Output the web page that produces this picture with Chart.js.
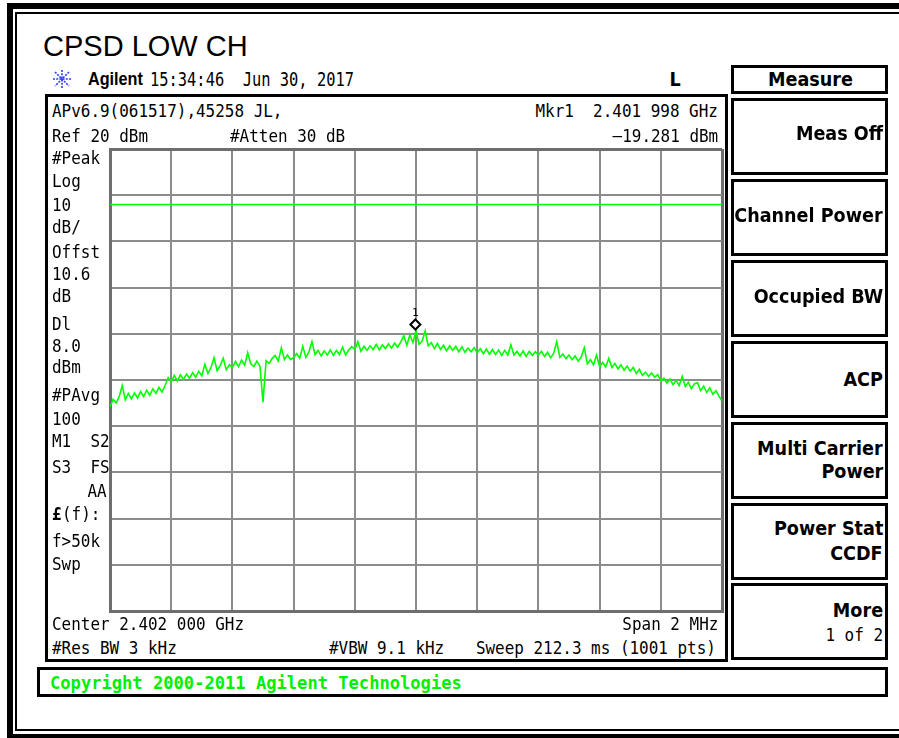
<!DOCTYPE html>
<html>
<head>
<meta charset="utf-8">
<script src="https://cdn.jsdelivr.net/npm/chart.js@4.4.1/dist/chart.umd.min.js"></script>
<style>
  html, body { margin: 0; padding: 0; }
  body { position: relative; width: 899px; height: 738px; overflow: hidden; background: #fff; }
  .box { position: absolute; box-sizing: border-box; }
  .lbl { position: absolute; white-space: pre; line-height: 1; color: #000; }
  .t { font-family: "Liberation Sans", Arial, sans-serif; font-size: 29px; }
  .a { font-family: "Liberation Sans", Arial, sans-serif; font-weight: bold; font-size: 18px; transform: scaleX(0.9); }
  .d { font-family: "DejaVu Sans Mono", monospace; font-size: 20px; transform: scaleX(0.77); }
  .m { font-family: "DejaVu Sans Mono", monospace; font-size: 18px; transform: scaleX(0.886); }
  .k { font-family: "DejaVu Sans", sans-serif; font-weight: bold; font-size: 20px; transform: scaleX(0.88); }
  .c { font-family: "DejaVu Sans Mono", monospace; font-weight: bold; font-size: 18px; transform: scaleX(0.95); color: #00f000; }
  #chart { position: absolute; left: 100px; top: 140px; }
</style>
</head>
<body>
<!-- outer double frame -->
<div class="box" style="left:7px;top:3px;width:900px;height:735px;border-left:6px solid #000;border-top:6px solid #000;border-bottom:4px solid #000"></div>
<div class="box" style="left:15px;top:12px;width:900px;height:719px;border-left:2px solid #000;border-top:2px solid #000;border-bottom:2px solid #000"></div>

<!-- analyzer screen and softkeys -->
<div class="box" style="left:45px;top:94px;width:683px;height:568px;border:3px solid #000"></div>
<div class="box" style="left:731px;top:65px;width:157px;height:29px;border:3px solid #000"></div>
<div id="keys"></div>
<div class="box" style="left:37px;top:667px;width:851px;height:30px;border:3px solid #000"></div>

<svg class="box" style="left:51px;top:69px" width="22" height="20" viewBox="0 0 22 20">
  <g stroke="#2a3cff" stroke-width="1.6" stroke-dasharray="2 1.2">
    <line x1="11" y1="1" x2="11" y2="19"/>
    <line x1="2" y1="10" x2="20" y2="10"/>
    <line x1="4" y1="3" x2="18" y2="17"/>
    <line x1="18" y1="3" x2="4" y2="17"/>
  </g>
</svg>

<canvas id="chart" width="640" height="480"></canvas>

<script>
// sweep: 1001 pts over 2 MHz, values read every 10 kHz (201 readings)
const sweepStartMHz = 2401.0;
const sweepStopMHz = 2403.0;
const traceDbm = [
  -35.8, -34.2, -35.0, -33.6, -31.2, -34.3, -32.9, -34.1, -32.8, -33.9,
  -32.5, -33.6, -32.2, -33.3, -31.9, -32.9, -31.6, -32.6, -31.2, -29.5,
  -30.4, -29.0, -30.2, -28.9, -29.9, -28.7, -29.6, -28.4, -29.4, -28.1,
  -29.1, -26.6, -28.6, -27.3, -25.2, -28.0, -26.9, -25.3, -27.8, -26.7,
  -27.3, -26.0, -27.1, -25.7, -26.8, -24.1, -26.5, -27.1, -25.9, -27.0,
  -34.8, -25.8, -26.4, -25.3, -24.7, -25.9, -23.0, -25.6, -24.6, -25.6,
  -25.1, -24.3, -25.3, -22.7, -25.1, -23.9, -21.7, -24.5, -23.6, -24.8,
  -23.7, -24.6, -23.5, -24.7, -23.6, -24.5, -22.9, -24.6, -23.5, -22.8,
  -23.4, -21.7, -23.8, -22.7, -23.6, -22.6, -23.4, -22.3, -23.5, -22.4,
  -23.2, -22.2, -23.1, -22.0, -22.9, -21.8, -20.4, -22.5, -20.2, -21.9,
  -19.3, -22.3, -21.6, -19.4, -22.6, -21.9, -23.2, -22.1, -23.4, -22.5,
  -23.7, -22.6, -23.6, -22.7, -23.9, -22.8, -24.0, -23.1, -23.9, -23.0,
  -24.1, -23.2, -24.3, -23.3, -24.4, -23.4, -24.5, -23.5, -24.7, -23.6,
  -24.6, -22.4, -24.6, -23.8, -24.8, -23.7, -24.9, -23.8, -24.7, -23.9,
  -24.6, -23.8, -24.9, -24.0, -25.2, -24.2, -21.7, -25.1, -24.4, -25.4,
  -24.6, -25.6, -24.8, -25.9, -25.0, -23.0, -26.5, -25.6, -26.7, -24.6,
  -27.1, -26.2, -27.2, -25.3, -27.3, -26.4, -27.6, -26.7, -27.9, -27.0,
  -28.1, -27.3, -28.6, -27.7, -29.0, -28.3, -29.2, -28.5, -29.4, -28.8,
  -30.2, -29.6, -30.7, -29.8, -31.0, -30.1, -31.2, -29.2, -31.4, -30.5,
  -31.9, -30.8, -30.6, -32.3, -31.3, -32.7, -31.7, -33.1, -32.3, -33.5,
  -34.5
];
const refLevelDbm = 20;
const bottomLevelDbm = -80;
const xGridMHz = [2401.0, 2401.2, 2401.4, 2401.6, 2401.8, 2402.0, 2402.2, 2402.4, 2402.6, 2402.8, 2403.0];
const yGridDbm = [20, 10, 0, -10, -20, -30, -40, -50, -60, -70, -80];
const displayLineDbm = 8.0;
const markerFreqMHz = 2401.998;
const markerDbm = -19.281;

// text on the analyzer screen: [text, x, baseline, class, alignRight]
const labels = [
  ['CPSD LOW CH', 43, 57, 't'],
  ['Agilent', 88, 85, 'a'],
  ['15:34:46  Jun 30, 2017', 150, 86, 'd'],
  ['L', 681, 86, 'k', true],
  ['Measure', 768, 86, 'k'],
  ['APv6.9(061517),45258 JL,', 52, 117, 'm'],
  ['Mkr1  2.401 998 GHz', 718, 117, 'm', true],
  ['Ref 20 dBm', 52, 142, 'm'],
  ['#Atten 30 dB', 230, 142, 'm'],
  ['\u201319.281 dBm', 718, 142, 'm', true],
  ['#Peak', 52, 164, 'm'],
  ['Log', 52, 187, 'm'],
  ['10', 52, 211, 'm'],
  ['dB/', 52, 233, 'm'],
  ['Offst', 52, 258, 'm'],
  ['10.6', 52, 280, 'm'],
  ['dB', 52, 302, 'm'],
  ['Dl', 52, 330, 'm'],
  ['8.0', 52, 352, 'm'],
  ['dBm', 52, 373, 'm'],
  ['#PAvg', 52, 401, 'm'],
  ['100', 52, 425, 'm'],
  ['M1  S2', 52, 447, 'm'],
  ['S3  FS', 52, 473, 'm'],
  ['AA', 107, 497, 'm', true],
  ['(f):', 62, 520, 'm'],
  ['f>50k', 52, 547, 'm'],
  ['Swp', 52, 570, 'm'],
  ['Center 2.402 000 GHz', 52, 630, 'm'],
  ['Span 2 MHz', 718, 630, 'm', true],
  ['#Res BW 3 kHz', 52, 654, 'm'],
  ['#VBW 9.1 kHz', 329, 654, 'm'],
  ['Sweep 212.3 ms (1001 pts)', 716, 654, 'm', true],
  ['Copyright 2000-2011 Agilent Technologies', 50, 689, 'c'],
  ['Meas Off', 883, 140, 'k', true],
  ['Channel Power', 883, 222, 'k', true],
  ['Occupied BW', 883, 303, 'k', true],
  ['ACP', 883, 386, 'k', true],
  ['Multi Carrier', 883, 455, 'k', true],
  ['Power', 883, 478, 'k', true],
  ['Power Stat', 883, 535, 'k', true],
  ['CCDF', 883, 560, 'k', true],
  ['More', 883, 617, 'k', true],
  ['1 of 2', 883, 641, 'm', true]
];
const softkeyTops = [98, 179, 260, 341, 422, 503, 583];

const fontSize = { t: 29, a: 18, d: 20, m: 18, k: 20, c: 18 };

function put(text, x, base, cls, right) {
  const el = document.createElement('div');
  el.className = 'lbl ' + cls;
  el.textContent = text;
  el.style.top = (base - 0.846 * fontSize[cls]) + 'px';
  if (right) {
    el.style.right = (899 - x) + 'px';
    el.style.transformOrigin = 'right top';
  } else {
    el.style.left = x + 'px';
    el.style.transformOrigin = 'left top';
  }
  document.body.appendChild(el);
  return el;
}

labels.forEach(l => put(l[0], l[1], l[2], l[3], l[4]));
// bold script L of the £(f) line
put('\u00a3', 52, 520, 'm').style.fontWeight = 'bold';

const keys = document.getElementById('keys');
softkeyTops.forEach(t => {
  const b = document.createElement('div');
  b.className = 'box';
  b.style.cssText = 'left:731px;top:' + t + 'px;width:157px;height:77px;border:3px solid #000';
  keys.appendChild(b);
});

const markerPlugin = {
  id: 'marker',
  afterDatasetsDraw(chart) {
    const { ctx, scales: { x, y } } = chart;
    const px = x.getPixelForValue(markerFreqMHz);
    const py = y.getPixelForValue(markerDbm);
    const cy = py - 6;
    ctx.save();
    ctx.beginPath();
    ctx.moveTo(px, cy - 5);
    ctx.lineTo(px + 5, cy);
    ctx.lineTo(px, cy + 5);
    ctx.lineTo(px - 5, cy);
    ctx.closePath();
    ctx.fillStyle = '#fff';
    ctx.fill();
    ctx.lineWidth = 2;
    ctx.strokeStyle = '#000';
    ctx.stroke();
    ctx.fillStyle = '#000';
    ctx.font = '11px "DejaVu Sans Mono"';
    ctx.textAlign = 'center';
    ctx.fillText('1', px, cy - 8);
    ctx.restore();
  }
};

const step = (sweepStopMHz - sweepStartMHz) / (traceDbm.length - 1);
const tracePoints = traceDbm.map((v, i) => ({ x: sweepStartMHz + i * step, y: v }));

const edge = (c, n) => c.index === 0 || c.index === n - 1;

new Chart(document.getElementById('chart'), {
  type: 'line',
  data: {
    datasets: [{
      data: tracePoints,
      borderColor: '#00ff00',
      borderWidth: 1.6,
      pointRadius: 0,
      tension: 0
    }, {
      data: [{ x: sweepStartMHz, y: displayLineDbm }, { x: sweepStopMHz, y: displayLineDbm }],
      borderColor: '#00ff00',
      borderWidth: 1.5,
      pointRadius: 0
    }]
  },
  options: {
    responsive: false,
    animation: false,
    devicePixelRatio: 1,
    layout: { padding: { left: 10, top: 9, right: 18, bottom: 9 } },
    plugins: { legend: { display: false }, tooltip: { enabled: false } },
    scales: {
      x: {
        type: 'linear',
        min: sweepStartMHz,
        max: sweepStopMHz,
        afterBuildTicks: s => { s.ticks = xGridMHz.map(v => ({ value: v })); },
        ticks: { display: false },
        grid: {
          drawTicks: false,
          color: c => edge(c, xGridMHz.length) ? '#6e6e6e' : '#8c8c8c',
          lineWidth: c => edge(c, xGridMHz.length) ? 3 : 2
        },
        border: { color: '#6e6e6e', width: 3 }
      },
      y: {
        min: bottomLevelDbm,
        max: refLevelDbm,
        afterBuildTicks: s => { s.ticks = yGridDbm.map(v => ({ value: v })); },
        ticks: { display: false },
        grid: {
          drawTicks: false,
          color: c => edge(c, yGridDbm.length) ? '#6e6e6e' : '#8c8c8c',
          lineWidth: c => edge(c, yGridDbm.length) ? 3 : 2
        },
        border: { color: '#6e6e6e', width: 3 }
      }
    }
  },
  plugins: [markerPlugin]
});
</script>
</body>
</html>
